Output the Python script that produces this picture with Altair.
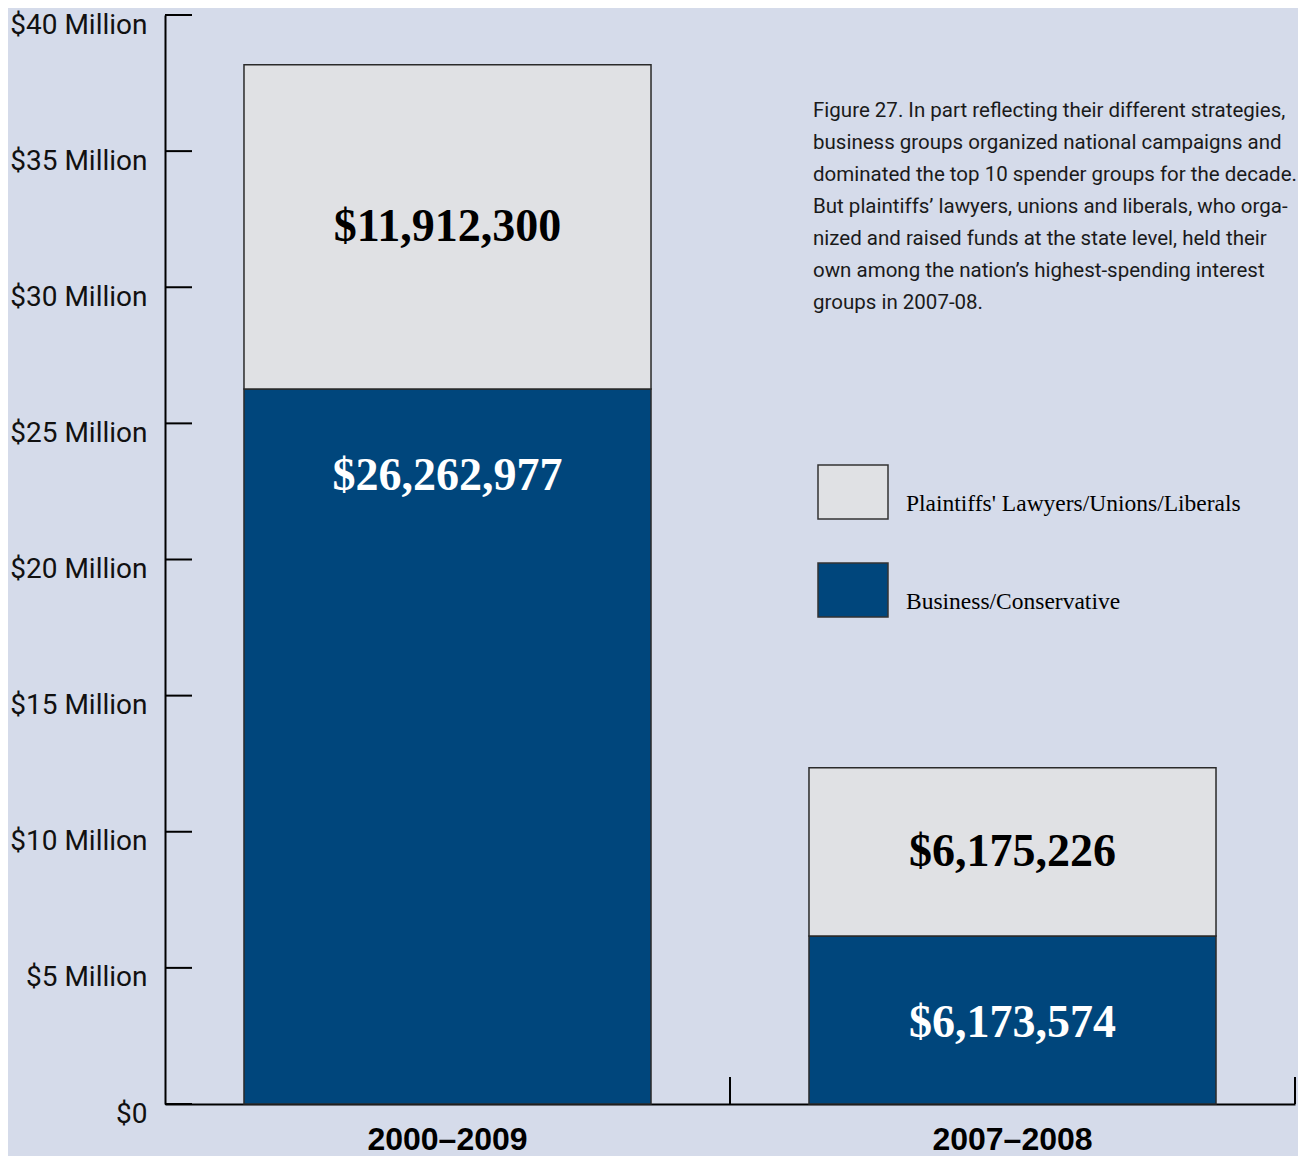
import altair as alt
import pandas as pd

periods = ["2000–2009", "2007–2008"]
groups = ["Plaintiffs' Lawyers/Unions/Liberals", "Business/Conservative"]
business_values = [26262977, 6173574]
plaintiffs_values = [11912300, 6175226]
y_ticks = [0, 5e6, 10e6, 15e6, 20e6, 25e6, 30e6, 35e6, 40e6]
caption_lines = [
    "Figure 27. In part reflecting their different strategies,",
    "business groups organized national campaigns and",
    "dominated the top 10 spender groups for the decade.",
    "But plaintiffs\u2019 lawyers, unions and liberals, who orga-",
    "nized and raised funds at the state level, held their",
    "own among the nation\u2019s highest-spending interest",
    "groups in 2007-08.",
]
colors = ["#e0e1e4", "#00467c"]

rows = []
for i, p in enumerate(periods):
    rows.append({"period": p, "group": groups[1], "value": business_values[i], "ord": 0})
    rows.append({"period": p, "group": groups[0], "value": plaintiffs_values[i], "ord": 1})
df = pd.DataFrame(rows)
df["label"] = df["value"].map(lambda v: "${:,}".format(v))

W, H = 1130, 1089

xscale = alt.Scale(domain=periods, paddingInner=0, paddingOuter=0)
yscale = alt.Scale(domain=[0, 40e6], nice=False)

base = alt.Chart(df).transform_stack(
    stack="value", groupby=["period"], as_=["v0", "v1"], sort=[alt.SortField("ord")]
)

bars = base.mark_bar(width=alt.RelativeBandSize(0.7204), stroke="#2a2a2a", strokeWidth=1.5).encode(
    x=alt.X("period:N", scale=xscale, sort=periods,
            axis=alt.Axis(title=None, labelAngle=0, ticks=False, domainColor="black", domainWidth=2,
                          labelFont="Liberation Sans", labelFontWeight="bold", labelFontSize=32,
                          labelColor="black", labelPadding=20)),
    y=alt.Y("v0:Q", scale=yscale,
            axis=alt.Axis(title=None, values=y_ticks, ticks=False, grid=False, domainColor="black",
                          domainWidth=2, labelFont="Roboto", labelFontSize=28,
                          labelColor="#111", labelPadding=18, labelOffset=10, labelFlush=False,
                          labelExpr="datum.value == 0 ? '$0' : '$' + (datum.value / 1000000) + ' Million'")),
    y2="v1:Q",
    color=alt.Color("group:N", scale=alt.Scale(domain=groups, range=colors),
                    legend=alt.Legend(title=None, orient="none", legendX=652, legendY=441,
                                      direction="vertical",
                                      symbolType="M-1,-0.77L1,-0.77L1,0.77L-1,0.77Z",
                                      symbolSize=4900, symbolStrokeColor="#333",
                                      symbolStrokeWidth=1.5, symbolOpacity=1,
                                      labelFont="Liberation Serif", labelFontSize=23.5,
                                      labelBaseline="top",
                                      labelColor="black", labelOffset=17, labelLimit=500,
                                      rowPadding=32, padding=0, offset=0)),
)

biz_labels = base.transform_filter(alt.datum.ord == 0).mark_text(
    font="Liberation Serif", fontWeight="bold", fontSize=46, color="white", baseline="middle", dy=87
).encode(x=alt.X("period:N", scale=xscale, sort=periods), y=alt.Y("v1:Q", scale=yscale), text="label:N")

pl_labels = base.transform_filter(alt.datum.ord == 1).transform_calculate(
    mid="(datum.v0 + datum.v1) / 2"
).mark_text(
    font="Liberation Serif", fontWeight="bold", fontSize=46, color="black", baseline="middle"
).encode(x=alt.X("period:N", scale=xscale, sort=periods), y=alt.Y("mid:Q", scale=yscale), text="label:N")

ytick_df = pd.DataFrame({"tick": y_ticks})
yticks = alt.Chart(ytick_df).mark_rule(color="black", strokeWidth=2).encode(
    y=alt.Y("tick:Q", scale=yscale), x=alt.value(0), x2=alt.value(27)
)

xtick_df = pd.DataFrame({"period": periods})
xticks = alt.Chart(xtick_df).mark_rule(color="black", strokeWidth=2).encode(
    x=alt.X("period:N", scale=xscale, sort=periods, bandPosition=1),
    y=alt.value(H - 27), y2=alt.value(H)
)

caption = alt.Chart(pd.DataFrame({"c": [0]})).mark_text(
    align="left", baseline="alphabetic", font="Roboto", fontSize=20.5,
    lineHeight=32, color="#1a1a1a"
).encode(x=alt.value(648), y=alt.value(102), text=alt.value(caption_lines))

chart = alt.layer(bars, biz_labels, pl_labels, yticks, xticks, caption).properties(
    width=W, height=H,
    autosize=alt.AutoSizeParams(type="none"),
    padding={"left": 157, "top": 7, "right": 3, "bottom": 52},
    background="#d5dbea",
).configure_view(stroke=None)

chart.save("out.html", embed_options={"renderer": "svg", "actions": False})
